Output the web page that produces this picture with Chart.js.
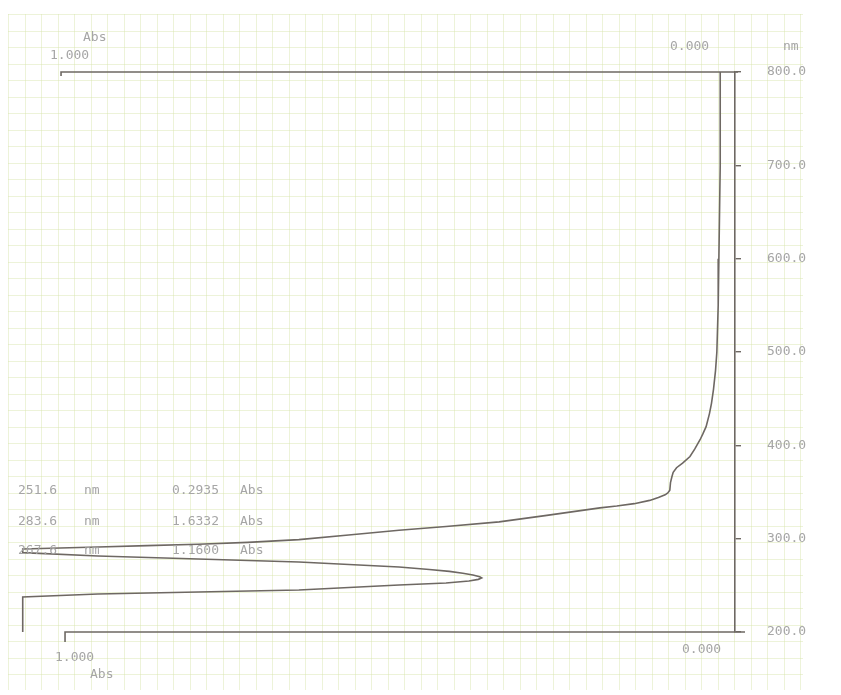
<!DOCTYPE html>
<html>
<head>
<meta charset="utf-8">
<script src="https://cdn.jsdelivr.net/npm/chart.js@4/dist/chart.umd.min.js"></script>
<style>
  html, body { margin: 0; padding: 0; background: #fff; }
  #wrap { width: 841px; height: 695px; }
</style>
</head>
<body>
<div id="wrap"><canvas id="spectrum" width="841" height="695"></canvas></div>
<script>
// Spectrum: absorbance (x) against wavelength in nm (y)
const absValues = [0.022, 0.022, 0.024, 0.025, 0.027, 0.029, 0.032, 0.035, 0.038, 0.043, 0.048, 0.052, 0.060, 0.067, 0.078, 0.087, 0.092, 0.094, 0.096, 0.097, 0.100, 0.104, 0.114, 0.127, 0.150, 0.176, 0.201, 0.280, 0.351, 0.430, 0.500, 0.575, 0.649, 0.725, 0.799, 0.875, 0.948, 1.060, 1.060, 0.948, 0.799, 0.649, 0.500, 0.455, 0.425, 0.405, 0.390, 0.380, 0.377, 0.382, 0.396, 0.430, 0.500, 0.649, 0.799, 0.948, 1.060, 1.060];
const nmValues  = [800, 700, 600, 550, 500, 480, 460, 445, 434, 420, 412, 406, 396, 388, 381, 376, 371, 366, 360, 352, 349, 347, 344, 341, 337.5, 335, 333, 325, 318, 313, 309, 304, 299, 296, 294, 292.5, 291, 289, 285, 281.4, 278.2, 275, 269.6, 267, 265, 263, 261, 259.2, 257.9, 256.4, 254.6, 252.5, 250.4, 245, 242.9, 240.7, 237.5, 200];

// Peak table printed in the lower left
const peakNm  = ['251.6', '283.6', '267.6'];
const peakAbs = ['0.2935', '1.6332', '1.1600'];

const nmTicks = [200, 300, 400, 500, 600, 700, 800];
const absLimits = [1.0, 0.0];

const lineColor = '#6e6863';
const textColor = '#a6a6a6';
const monoFont = '13px "DejaVu Sans Mono", "Liberation Mono", monospace';

const points = absValues.map((a, i) => ({ x: a, y: nmValues[i] }));

// graph paper + frame lines + printed texts
const paperPlugin = {
    id: 'paper',
    beforeDraw(chart) {
        const ctx = chart.ctx;
        ctx.save();
        ctx.fillStyle = '#ffffff';
        ctx.fillRect(0, 0, chart.width, chart.height);
        ctx.strokeStyle = 'rgba(215, 228, 170, 0.45)';
        ctx.lineWidth = 1;
        const x0 = 8, x1 = 803, y0 = 14, y1 = 690, step = 16.5;
        ctx.beginPath();
        for (let x = x0; x <= x1; x += step) {
            ctx.moveTo(Math.round(x) + 0.5, y0);
            ctx.lineTo(Math.round(x) + 0.5, y1);
        }
        for (let y = y0; y <= y1; y += step) {
            ctx.moveTo(x0, Math.round(y) + 0.5);
            ctx.lineTo(x1, Math.round(y) + 0.5);
        }
        ctx.stroke();
        ctx.restore();
    },
    afterDraw(chart) {
        const ctx = chart.ctx;
        const xs = chart.scales.x, ys = chart.scales.y;
        const xLeft = xs.getPixelForValue(absLimits[0]);
        const xRight = xs.getPixelForValue(absLimits[1]);
        const yTop = ys.getPixelForValue(800);
        const yBot = ys.getPixelForValue(200);

        ctx.save();
        ctx.strokeStyle = lineColor;
        ctx.lineWidth = 1.6;
        ctx.beginPath();
        // top frame
        ctx.moveTo(xLeft - 2, yTop + 4);
        ctx.lineTo(xLeft - 2, yTop);
        ctx.lineTo(xRight + 3, yTop);
        // bottom frame
        ctx.moveTo(xLeft + 2, yBot + 10);
        ctx.lineTo(xLeft + 2, yBot);
        ctx.lineTo(xRight + 10, yBot);
        ctx.stroke();

        ctx.fillStyle = textColor;
        ctx.font = monoFont;
        ctx.textBaseline = 'middle';
        ctx.textAlign = 'left';
        ctx.fillText('Abs', 83, 38);
        ctx.fillText('1.000', 50, 56);
        ctx.fillText('0.000', 670, 47);
        ctx.fillText('nm', 783, 47);
        ctx.fillText('1.000', 55, 658);
        ctx.fillText('Abs', 90, 675);
        ctx.fillText('0.000', 682, 650);

        const rowY = [491, 522, 551];
        peakNm.forEach((nm, i) => {
            ctx.fillText(nm, 18, rowY[i]);
            ctx.fillText('nm', 84, rowY[i]);
            ctx.fillText(peakAbs[i], 172, rowY[i]);
            ctx.fillText('Abs', 240, rowY[i]);
        });
        ctx.restore();
    }
};

new Chart(document.getElementById('spectrum'), {
    type: 'scatter',
    data: {
        datasets: [{
            data: points,
            showLine: true,
            borderColor: lineColor,
            borderWidth: 1.6,
            pointRadius: 0,
            tension: 0,
            fill: false
        }]
    },
    options: {
        responsive: false,
        animation: false,
        layout: { padding: { left: 16, right: 0, top: 72, bottom: 63 } },
        plugins: { legend: { display: false }, tooltip: { enabled: false } },
        scales: {
            x: {
                type: 'linear',
                reverse: true,
                min: 0,
                max: 1.07,
                display: false
            },
            y: {
                type: 'linear',
                position: 'right',
                min: 200,
                max: 800,
                afterBuildTicks(scale) {
                    scale.ticks = nmTicks.map(v => ({ value: v }));
                },
                afterFit(scale) { scale.width = 106; },
                ticks: {
                    color: textColor,
                    font: { family: '"DejaVu Sans Mono", monospace', size: 13 },
                    padding: 26,
                    callback: v => v.toFixed(1)
                },
                grid: {
                    drawOnChartArea: false,
                    drawTicks: true,
                    tickLength: 6,
                    color: lineColor,
                    lineWidth: 1.4
                },
                border: { display: true, color: lineColor, width: 1.6 }
            }
        }
    },
    plugins: [paperPlugin]
});
</script>
</body>
</html>
